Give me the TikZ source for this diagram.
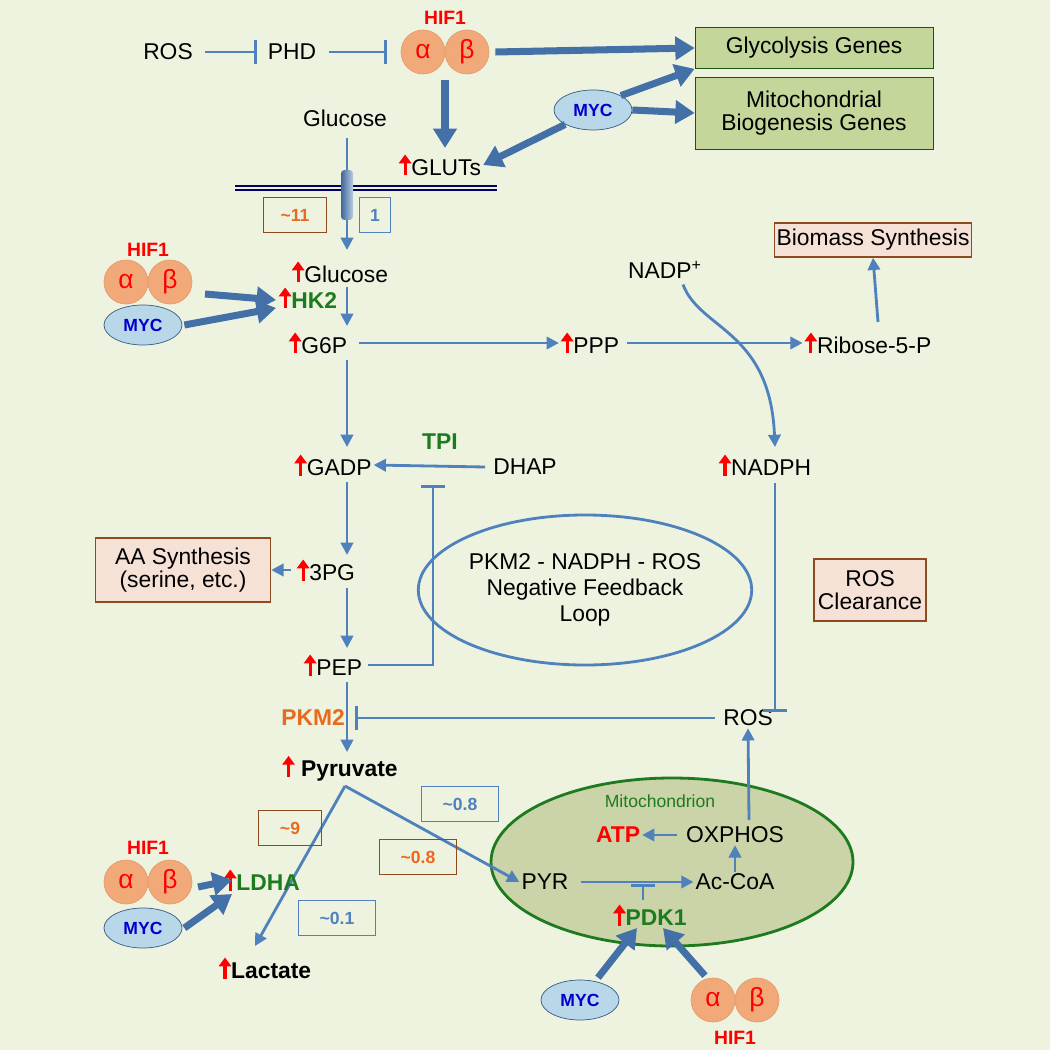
\documentclass[tikz,border=0pt]{standalone}
\usepackage{fontspec}
\setmainfont{Liberation Sans}
\usetikzlibrary{arrows.meta,shapes.geometric,calc}
\definecolor{bgc}{HTML}{EEF3E0}
\definecolor{arr}{HTML}{4F81BD}
\definecolor{bigarr}{HTML}{4470A8}
\definecolor{boxg}{HTML}{C4D69A}
\definecolor{boxp}{HTML}{F6E1D6}
\definecolor{boxb}{HTML}{8E4B1E}
\definecolor{mito}{HTML}{CAD4A8}
\definecolor{darkg}{HTML}{1E7A1E}
\definecolor{orng}{HTML}{E86A1E}
\definecolor{hif}{HTML}{F2A97A}
\definecolor{myc}{HTML}{B8D8EA}
\newcommand{\upar}{\tikz[baseline,x=1cm,y=1cm]\draw[red,line width=1.8pt,-{Triangle[length=5pt,width=7pt]}](0,0)--(0,0.42);}
\tikzset{
  lbl/.style={font=\fontsize{13}{15}\selectfont,inner sep=1pt},
  blbl/.style={lbl,font=\fontsize{13}{15}\selectfont\bfseries},
  flow/.style={arr,line width=1.6pt,-{Triangle[length=7pt,width=7pt]}},
  inhib/.style={arr,line width=1.6pt,-{Bar[width=14pt]}},
  big/.style={bigarr,line width=4pt,-{Triangle[length=11pt,width=13pt]}},
  gbox/.style={draw=darkg!70!black,fill=boxg,minimum width=238*0.02cm,lbl,align=center},
  pbox/.style={draw=boxb,fill=boxp,line width=0.8pt,lbl,align=center},
  nbox/.style={draw,line width=0.6pt,font=\fontsize{10}{12}\selectfont\bfseries,minimum width=36,minimum height=20},
  sub/.style={circle,draw=hif!70!brown,fill=hif,minimum size=44*0.02cm,inner sep=0pt,text=red,font=\fontsize{15}{15}\selectfont},
  mycn/.style={ellipse,draw=arr!70!black,fill=myc,minimum width=78*0.02cm,minimum height=40*0.02cm,text=blue!80!black,font=\fontsize{10}{12}\selectfont\bfseries},
  hifl/.style={text=red,font=\fontsize{11}{12}\selectfont\bfseries}
}
\newcommand{\hifpair}[3]{% name, x, y
  \node[sub] (#1a) at (#2-22,#3) {α};
  \node[sub] (#1b) at (#2+22,#3) {β};
  \coordinate (#1) at (#2,#3);
}
\begin{document}
\begin{tikzpicture}[x=0.02cm,y=-0.02cm]
\fill[bgc] (0,0) rectangle (1050,1050);
\useasboundingbox (0,0) rectangle (1050,1050);

% top regulation
\node[lbl] (ros1) at (168,52) {ROS};
\node[lbl] (phd) at (292,52) {PHD};
\hifpair{hift}{445}{52}
\node[hifl] at (445,18) {HIF1};
\draw[inhib,shorten <=6pt,shorten >=5pt] (ros1) -- (phd);
\draw[inhib,shorten <=6pt,shorten >=8pt] (phd) -- (hifta);
\node[gbox,minimum height=41*0.02cm] (glyg) at (814,48) {Glycolysis Genes};
\node[gbox,minimum height=72*0.02cm] (mitog) at (814,113) {Mitochondrial\\[-2pt]Biogenesis Genes};
\node[mycn] (myct) at (593,110) {MYC};
\draw[big] (hiftb.east) ++(6,0) -- (glyg.west);
\draw[big] (myct.north east) -- (glyg.south west);
\draw[big] (myct.east) -- (mitog.west);
\node[lbl] (gluts) at (440,165) {\upar GLUTs};
\draw[big] (hift) ++(0,28) -- (445,148);
\draw[big] (myct.south west) -- (gluts.east);

% membrane
\node[lbl] (gluo) at (345,118) {Glucose};
\draw[blue!40!black,line width=0.6pt] (235,186) -- (497,186) (235,190) -- (497,190);
\node[lbl] (glui) at (340,272) {\upar Glucose};
\draw[flow] (gluo) ++(2,20) -- (347,250);
\shade[left color=arr!80!black,right color=arr!40,rounded corners=2pt] (341,170) rectangle (353,220);
\node[nbox,draw=boxb,text=orng] (n11) at (295,215) {\textasciitilde 11};
\node[nbox,draw=arr,text=arr,minimum width=18] (n1) at (375,215) {1};

% HK2
\hifpair{hifk}{148}{282}
\node[hifl] at (148,250) {HIF1};
\node[mycn] (myck) at (143,325) {MYC};
\node[lbl,text=darkg,font=\fontsize{13}{15}\selectfont\bfseries] (hk2) at (308,298) {\upar HK2};
\draw[big] (205,294) -- (276,300);
\draw[big] (myck.east) ++(2,0) -- (276,308);

% glycolysis column
\node[lbl] (g6p) at (318,343) {\upar G6P};
\node[lbl] (gadp) at (333,465) {\upar GADP};
\node[lbl] (tpi) at (440,442) {\bfseries\color{darkg}TPI};
\node[lbl] (dhap) at (525,467) {DHAP};
\node[lbl] (p3g) at (326,570) {\upar 3PG};
\node[lbl] (pep) at (333,665) {\upar PEP};
\node[lbl,font=\fontsize{13}{15}\selectfont\bfseries,text=orng] (pkm2) at (313,718) {PKM2};
\node[lbl,font=\fontsize{13}{15}\selectfont\bfseries] (pyr) at (340,768) {\upar\ Pyruvate};
\draw[flow] (347,287) -- (347,326);
\draw[flow] (347,360) -- (347,447);
\draw[flow] (347,482) -- (347,555);
\draw[flow] (347,588) -- (347,648);
\draw[flow] (347,682) -- (347,752);
\draw[flow] (dhap.west) ++(-6,0) -- (gadp.east);
\draw[inhib] (pep.east) ++(4,0) -- (433,665) -- (433,485);
\node[pbox,minimum width=175*0.02cm,minimum height=64*0.02cm] (aas) at (183,570) {AA Synthesis\\[-2pt](serine, etc.)};
\draw[flow] (p3g.west) ++(-4,0) -- (aas.east);

% PPP branch
\node[lbl] (ppp) at (590,343) {\upar PPP};
\node[lbl] (r5p) at (868,343) {\upar Ribose-5-P};
\node[pbox,minimum width=185*0.02cm,minimum height=34*0.02cm] (bms) at (873,240) {Biomass Synthesis};
\node[lbl] (nadp) at (665,270) {NADP\textsuperscript{+}};
\node[lbl] (nadph) at (765,465) {\upar NADPH};
\draw[flow] (g6p.east) ++(10,0) -- (ppp.west);
\draw[flow] (ppp.east) ++(6,0) -- (r5p.west);
\draw[flow] (878,322) -- (bms.south);
\draw[flow] (nadp.south) ++(18,4) .. controls (700,330) and (770,330) .. (775,447);

% feedback
\node[ellipse,draw=arr,line width=1.6pt,minimum width=262*0.02cm,minimum height=150*0.02cm,lbl,align=center] (loop) at (585,590) {PKM2 - NADPH - ROS\\Negative Feedback\\Loop};
\node[pbox,minimum width=112*0.02cm,minimum height=62*0.02cm] (rcl) at (870,590) {ROS\\[-2pt]Clearance};
\node[lbl] (ros2) at (748,718) {ROS};
\draw[inhib] (ros2.west) ++(-6,0) -- (355,718);
\draw[inhib] (nadph.south) ++(10,4) -- (775,712);

% mitochondrion
\node[ellipse,draw=darkg,fill=mito,line width=1.6pt,minimum width=362*0.02cm,minimum height=168*0.02cm] (mit) at (672,862) {};
\node[lbl,text=darkg,font=\fontsize{10}{12}\selectfont] at (660,801) {Mitochondrion};
\node[lbl,font=\fontsize{13}{15}\selectfont\bfseries,text=red] (atp) at (618,835) {ATP};
\node[lbl] (oxp) at (735,835) {OXPHOS};
\node[lbl] (pyrm) at (545,882) {PYR};
\node[lbl] (acoa) at (735,882) {Ac-CoA};
\node[lbl,font=\fontsize{13}{15}\selectfont\bfseries,text=darkg] (pdk1) at (650,915) {\upar PDK1};
\draw[flow,shorten <=6pt] (pyrm.east) -- (acoa.west);
\draw[inhib] (643,900) -- (643,884);
\draw[flow] (acoa.north) -- (oxp.south);
\draw[flow,shorten <=4pt] (oxp.west) -- (atp.east);
\draw[flow] (749,820) -- (ros2.south);

% pyruvate split
\coordinate (br) at (345,786);
\node[lbl,font=\fontsize{13}{15}\selectfont\bfseries] (lac) at (265,968) {\upar Lactate};
\draw[flow] (br) -- (pyrm.west);
\draw[flow] (br) -- (255,946);
\node[nbox,draw=boxb,text=orng] (n9) at (290,828) {\textasciitilde 9};
\node[nbox,draw=boxb,text=orng,minimum width=44] (n08a) at (418,857) {\textasciitilde 0.8};
\node[nbox,draw=arr,text=arr,minimum width=44] (n08b) at (460,804) {\textasciitilde 0.8};
\node[nbox,draw=arr,text=arr,minimum width=44] (n01) at (337,918) {\textasciitilde 0.1};

% LDHA
\hifpair{hifl}{148}{882}
\node[hifl] at (148,848) {HIF1};
\node[mycn] (mycl) at (143,928) {MYC};
\node[lbl,font=\fontsize{13}{15}\selectfont\bfseries,text=darkg] (ldha) at (262,880) {\upar LDHA};
\draw[big] (198,887) -- (232,880);
\draw[big] (mycl.east) ++(2,0) -- (232,894);

% PDK1 regulators
\node[mycn] (mycb) at (580,1000) {MYC};
\hifpair{hifb}{735}{1000}
\node[hifl] at (735,1038) {HIF1};
\draw[big] (mycb.north) ++(18,-2) -- (637,928);
\draw[big] (hifba.north) ++(-8,-2) -- (663,928);
\end{tikzpicture}
\end{document}
